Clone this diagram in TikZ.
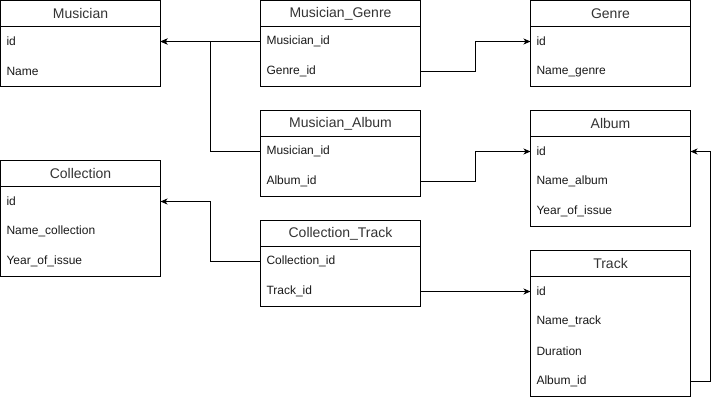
\documentclass[tikz,border=0pt]{standalone}
\usepackage{fontspec}
\setmainfont{Liberation Sans}
\usetikzlibrary{positioning,arrows.meta}

\tikzset{
  tabhead/.style={draw, line width=1pt, minimum width=160pt, minimum height=26pt, inner sep=0pt,
    outer sep=0pt, anchor=north west, text=black!80, font=\fontsize{14}{16}\selectfont},
  tabrow/.style={minimum width=160pt, minimum height=30pt, text width=148pt, inner sep=6pt,
    outer sep=0pt, align=left, text=black!90, font=\fontsize{12}{14}\selectfont},
  tabbox/.style={draw, line width=1pt},
  link/.style={line width=1pt, -{Stealth[length=7pt,width=6pt,inset=2pt]}}
}

\begin{document}
\begin{tikzpicture}[x=1pt,y=-1pt,node distance=0pt]
\useasboundingbox (0,0) rectangle (719,400);

% left column
\node[tabhead] (musician) at (0.5,0.5) {Musician};
\node[tabrow] (musician_id) [below=of musician] {id};
\node[tabrow] (musician_name) [below=of musician_id] {Name};
\draw[tabbox] (musician.north west) rectangle (musician_name.south east);

\node[tabhead] (collection) at (0.5,160.5) {Collection};
\node[tabrow] (collection_id) [below=of collection] {id};
\node[tabrow] (collection_name) [below=of collection_id] {Name\_collection};
\node[tabrow] (collection_year) [below=of collection_name] {Year\_of\_issue};
\draw[tabbox] (collection.north west) rectangle (collection_year.south east);

% middle column
\node[tabhead] (mg) at (260.5,0.5) {Musician\_Genre};
\node[tabrow] (mg_musician) [below=of mg] {Musician\_id};
\node[tabrow] (mg_genre) [below=of mg_musician] {Genre\_id};
\draw[tabbox] (mg.north west) rectangle (mg_genre.south east);

\node[tabhead] (ma) at (260.5,110.5) {Musician\_Album};
\node[tabrow] (ma_musician) [below=of ma] {Musician\_id};
\node[tabrow] (ma_album) [below=of ma_musician] {Album\_id};
\draw[tabbox] (ma.north west) rectangle (ma_album.south east);

\node[tabhead] (ct) at (260.5,220.5) {Collection\_Track};
\node[tabrow] (ct_collection) [below=of ct] {Collection\_id};
\node[tabrow] (ct_track) [below=of ct_collection] {Track\_id};
\draw[tabbox] (ct.north west) rectangle (ct_track.south east);

% right column
\node[tabhead] (genre) at (530.5,0.5) {Genre};
\node[tabrow] (genre_id) [below=of genre] {id};
\node[tabrow] (genre_name) [below=of genre_id] {Name\_genre};
\draw[tabbox] (genre.north west) rectangle (genre_name.south east);

\node[tabhead] (album) at (530.5,110.5) {Album};
\node[tabrow] (album_id) [below=of album] {id};
\node[tabrow] (album_name) [below=of album_id] {Name\_album};
\node[tabrow] (album_year) [below=of album_name] {Year\_of\_issue};
\draw[tabbox] (album.north west) rectangle (album_year.south east);

\node[tabhead] (track) at (530.5,250.5) {Track};
\node[tabrow] (track_id) [below=of track] {id};
\node[tabrow] (track_name) [below=of track_id] {Name\_track};
\node[tabrow] (track_duration) [below=of track_name] {Duration};
\node[tabrow] (track_album) [below=of track_duration] {Album\_id};
\draw[tabbox] (track.north west) rectangle (track_album.south east);

% links
\draw[link] (mg_musician.west) -- (musician_id.east);
\draw[link] (ma_musician.west) -- ++(-50,0) |- (musician_id.east);
\draw[link] (mg_genre.east) -- ++(55,0) |- (genre_id.west);
\draw[link] (ma_album.east) -- ++(55,0) |- (album_id.west);
\draw[link] (ct_collection.west) -- ++(-50,0) |- (collection_id.east);
\draw[link] (ct_track.east) -- (track_id.west);
\draw[link] (track_album.east) -- ++(20,0) |- (album_id.east);
\end{tikzpicture}
\end{document}
